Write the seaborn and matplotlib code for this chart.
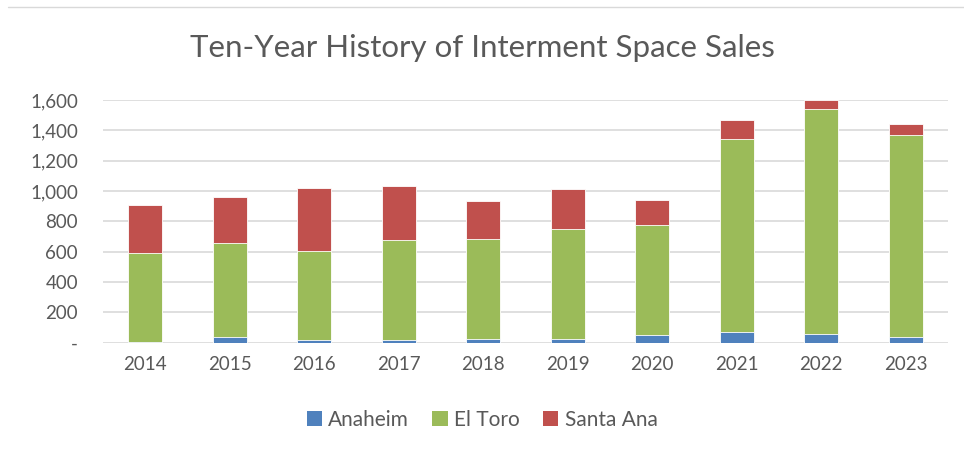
import matplotlib.pyplot as plt
import matplotlib.ticker as mticker
from matplotlib.patches import Patch
from matplotlib.lines import Line2D
import pandas as pd
import seaborn as sns

# Values (interment spaces sold per year)
years = ["2014", "2015", "2016", "2017", "2018", "2019", "2020", "2021", "2022", "2023"]
anaheim = [5, 39, 17, 19, 26, 24, 47, 67, 54, 39]
el_toro = [583, 620, 587, 657, 655, 725, 730, 1276, 1485, 1330]
santa_ana = [319, 299, 413, 354, 253, 262, 165, 127, 59, 75]

series_names = ["Anaheim", "El Toro", "Santa Ana"]
colors = ["#4F81BD", "#9BBB59", "#C0504D"]
text_grey = "#595959"
grid_grey = "#D9D9D9"


def main():
    df = pd.DataFrame({"Year": years, "Anaheim": anaheim,
                       "El Toro": el_toro, "Santa Ana": santa_ana})
    # cumulative totals, drawn largest first so the stacks overlap correctly
    df["cum_1"] = df["Anaheim"]
    df["cum_2"] = df["cum_1"] + df["El Toro"]
    df["cum_3"] = df["cum_2"] + df["Santa Ana"]

    sns.set_theme(style="white")
    plt.rcParams["font.family"] = ["Lato", "DejaVu Sans"]

    fig = plt.figure(figsize=(9.64, 4.53), dpi=100)
    ax = fig.add_axes([103 / 964, 1 - 342.5 / 453, 845 / 964, 242.5 / 453])

    for col, color in zip(["cum_3", "cum_2", "cum_1"], colors[::-1]):
        sns.barplot(data=df, x="Year", y=col, color=color, width=0.40,
                    saturation=1, edgecolor="white", linewidth=0.6, ax=ax)

    ax.set_ylim(0, 1600)
    ax.yaxis.set_major_locator(mticker.MultipleLocator(200))
    ax.yaxis.set_major_formatter(
        mticker.FuncFormatter(lambda v, p: "-" if v == 0 else f"{int(v):,}"))
    ax.set_axisbelow(True)
    ax.grid(axis="y", color=grid_grey, linewidth=1.2)
    ax.grid(axis="x", visible=False)
    for s in ax.spines.values():
        s.set_visible(False)
    ax.set_xlabel("")
    ax.set_ylabel("")
    ax.tick_params(axis="both", length=0, labelsize=13.5, colors=text_grey)
    ax.tick_params(axis="y", pad=18)
    ax.tick_params(axis="x", pad=10)

    fig.text(0.5, 1 - 48 / 453, "Ten-Year History of Interment Space Sales",
             ha="center", va="center", fontsize=22.5, color=text_grey)

    handles = [Patch(facecolor=c, edgecolor="none") for c in colors]
    fig.legend(handles, series_names, loc="center", bbox_to_anchor=(0.5, 1 - 420 / 453),
               ncol=3, frameon=False, fontsize=15, labelcolor=text_grey,
               handlelength=0.75, handleheight=0.75, handletextpad=0.3, columnspacing=1.1)

    # faint chart-area border line at the top, as in the screenshot
    fig.add_artist(Line2D([8 / 964, 1], [1 - 7 / 453, 1 - 7 / 453],
                          transform=fig.transFigure, color=grid_grey, linewidth=1))

    fig.savefig("out.png", dpi=100)


if __name__ == "__main__":
    main()
